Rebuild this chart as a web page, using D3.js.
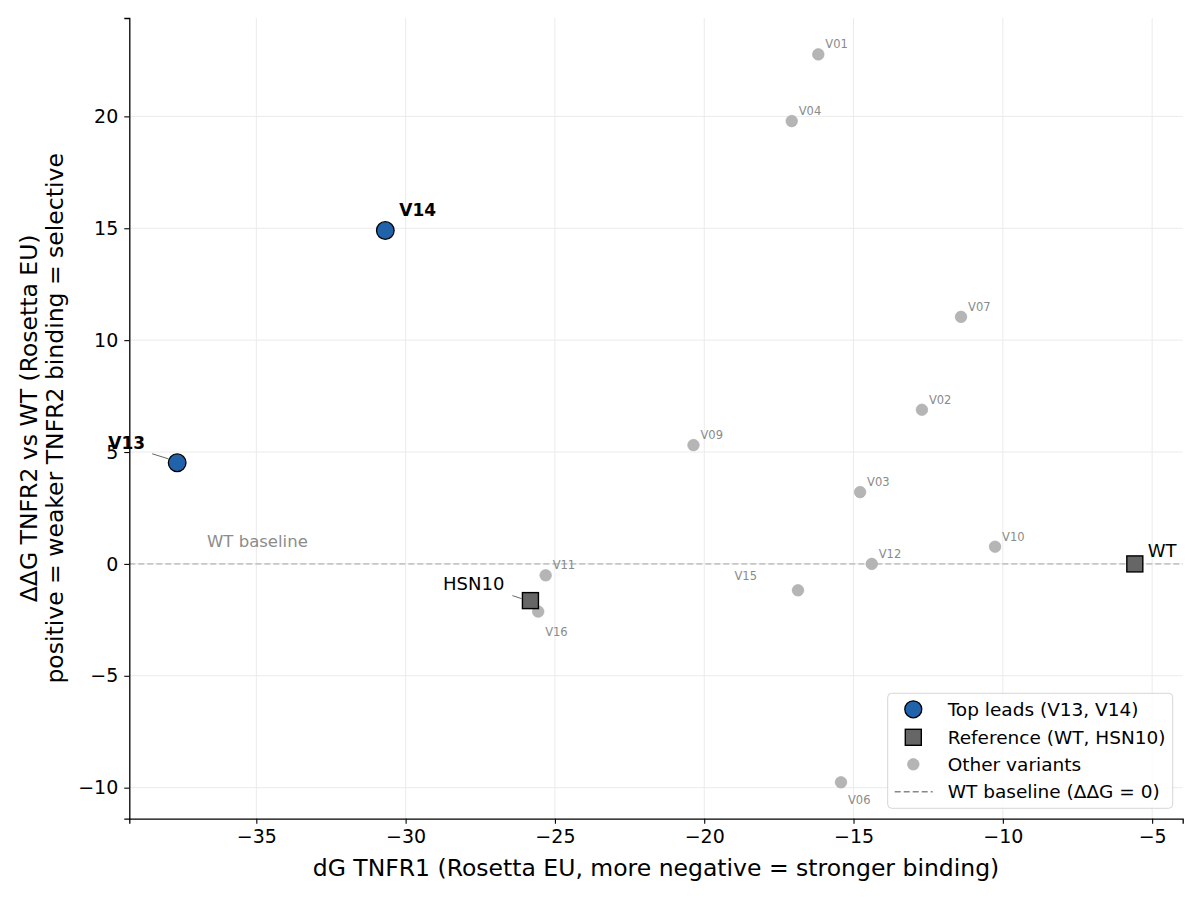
<!DOCTYPE html>
<html>
<head>
<meta charset="utf-8">
<script src="https://cdn.jsdelivr.net/npm/d3@7"></script>
<style>
  body { margin: 0; background: #fff; }
  text { font-family: "DejaVu Sans", sans-serif; }
</style>
</head>
<body>
<div class="svg-container"></div>
<script>
let w = 1200;
let h = 898;

// ---- data ----
let variantNames = ['V01','V02','V03','V04','V06','V07','V09','V10','V11','V12','V15','V16','V13','V14','WT','HSN10'];
let dgTnfr1      = [-16.18,-12.71,-14.78,-17.07,-15.42,-11.40,-20.36,-10.26,-25.31,-14.39,-16.86,-25.56,-37.65,-30.68,-5.58,-25.82];
let ddgTnfr2     = [22.77, 6.89, 3.21, 19.79, -9.76, 11.04, 5.31, 0.77, -0.51, 0.00, -1.18, -2.13, 4.52, 14.90, 0.00, -1.64];
let topLeads   = ['V13','V14'];
let references = ['WT','HSN10'];
let xTicks = [-35,-30,-25,-20,-15,-10,-5];
let yTicks = [-10,-5,0,5,10,15,20];
let legendLabels = ['Top leads (V13, V14)','Reference (WT, HSN10)','Other variants','WT baseline (\u0394\u0394G = 0)'];

let points = variantNames.map(function(d,i){
  let group = 'other';
  if(topLeads.indexOf(d) >= 0){ group = 'top'; }
  if(references.indexOf(d) >= 0){ group = 'ref'; }
  return {name:d, x:dgTnfr1[i], y:ddgTnfr2[i], group:group};
});

// label placement for the small grey labels (pixel offsets)
let smallLabelOffset = {
  'V15':[-41,-10,'end'],
  'V16':[7,24,'start'],
  'V06':[7,22,'start']
};

let margin = {left:129.3, right:1200-1182.7, top:18, bottom:898-818.7};

let svg = d3.select(".svg-container")
  .append("svg")
  .attr('width',w)
  .attr('height',h);

// matplotlib style 5% margins
let xExt = d3.extent(points,function(d){ return d.x; });
let yExt = d3.extent(points,function(d){ return d.y; });
let xPad = (xExt[1]-xExt[0])*0.05;
let yPad = (yExt[1]-yExt[0])*0.05;

let x = d3.scaleLinear()
  .domain([xExt[0]-xPad, xExt[1]+xPad])
  .range([margin.left, w-margin.right]);
let y = d3.scaleLinear()
  .domain([yExt[0]-yPad, yExt[1]+yPad])
  .range([h-margin.bottom, margin.top]);

let minus = function(v){ return (v<0 ? '\u2212' : '') + Math.abs(v); };

// grid
let grid = svg.append('g').attr('class','grid');
grid.selectAll('.gx').data(xTicks).enter().append('line')
  .attr('x1',function(d){ return x(d); }).attr('x2',function(d){ return x(d); })
  .attr('y1',y.range()[0]).attr('y2',y.range()[1])
  .attr('stroke','#ebebeb').attr('stroke-width',1);
grid.selectAll('.gy').data(yTicks).enter().append('line')
  .attr('y1',function(d){ return y(d); }).attr('y2',function(d){ return y(d); })
  .attr('x1',x.range()[0]).attr('x2',x.range()[1])
  .attr('stroke','#ebebeb').attr('stroke-width',1);

// WT baseline
svg.append('line')
  .attr('x1',x.range()[0]).attr('x2',x.range()[1])
  .attr('y1',y(0)).attr('y2',y(0))
  .attr('stroke','#c6c6c6').attr('stroke-width',1.7)
  .attr('stroke-dasharray','6,3');
svg.append('text')
  .attr('x',x(-36.65)).attr('y',y(0)-17)
  .text('WT baseline')
  .attr('font-size','16.5px')
  .attr('fill','#8c8c8c');

// axes
let xAxis = d3.axisBottom(x).tickValues(xTicks).tickFormat(minus).tickSizeOuter(0).tickSize(5).tickPadding(6);
let yAxis = d3.axisLeft(y).tickValues(yTicks).tickFormat(minus).tickSizeOuter(0).tickSize(5).tickPadding(6);

let xAxisGroup = svg.append('g')
  .attr('transform','translate(0,'+(h-margin.bottom)+')')
  .call(xAxis);
let yAxisGroup = svg.append('g')
  .attr('transform','translate('+margin.left+',0)')
  .call(yAxis);
[xAxisGroup,yAxisGroup].forEach(function(g){
  g.select('.domain').attr('stroke','#000').attr('stroke-width',1.3);
  g.selectAll('.tick line').attr('stroke','#000').attr('stroke-width',1.1);
  g.selectAll('.tick text').attr('font-size','19px').attr('fill','#000')
    .attr('font-family','DejaVu Sans, sans-serif');
});

// axis titles
svg.append('text')
  .attr('x',(x.range()[0]+x.range()[1])/2).attr('y',876)
  .attr('text-anchor','middle')
  .attr('font-size','23.5px')
  .text('dG TNFR1 (Rosetta EU, more negative = stronger binding)');

let yMid = (y.range()[0]+y.range()[1])/2;
let yTitle = svg.append('text')
  .attr('transform','translate(0,'+yMid+') rotate(-90)')
  .attr('text-anchor','middle')
  .attr('font-size','23.5px');
yTitle.append('tspan').attr('x',0).attr('y',37).text('\u0394\u0394G TNFR2 vs WT (Rosetta EU)');
yTitle.append('tspan').attr('x',0).attr('y',63).text('positive = weaker TNFR2 binding = selective');

// other variants
let others = points.filter(function(d){ return d.group=='other'; });
svg.selectAll('circle.other').data(others).enter().append('circle')
  .attr('class','other')
  .attr('cx',function(d){ return x(d.x); })
  .attr('cy',function(d){ return y(d.y); })
  .attr('r',5.8)
  .attr('fill','#b5b5b5')
  .attr('stroke','#a9a9a9')
  .attr('stroke-width',0.6);

svg.selectAll('text.small').data(others).enter().append('text')
  .attr('class','small')
  .attr('x',function(d){ let o = smallLabelOffset[d.name] || [7,-6]; return x(d.x)+o[0]; })
  .attr('y',function(d){ let o = smallLabelOffset[d.name] || [7,-6]; return y(d.y)+o[1]; })
  .attr('text-anchor',function(d){ let o = smallLabelOffset[d.name] || [7,-6,'start']; return o[2]||'start'; })
  .attr('font-size','11.5px')
  .attr('fill','#8a8a8a')
  .text(function(d){ return d.name; });

// reference squares
let refs = points.filter(function(d){ return d.group=='ref'; });
let sq = 16;
svg.selectAll('rect.ref').data(refs).enter().append('rect')
  .attr('class','ref')
  .attr('x',function(d){ return x(d.x)-sq/2; })
  .attr('y',function(d){ return y(d.y)-sq/2; })
  .attr('width',sq).attr('height',sq)
  .attr('fill','#666666')
  .attr('stroke','#000')
  .attr('stroke-width',1.4);

// top leads
let tops = points.filter(function(d){ return d.group=='top'; });
svg.selectAll('circle.top').data(tops).enter().append('circle')
  .attr('class','top')
  .attr('cx',function(d){ return x(d.x); })
  .attr('cy',function(d){ return y(d.y); })
  .attr('r',8.8)
  .attr('fill','#2163ab')
  .attr('stroke','#000')
  .attr('stroke-width',1.3);

// big labels with leader lines
let bigLabels = {
  'V14':  {dx:14, dy:-14, anchor:'start', bold:true},
  'V13':  {dx:-32, dy:-14, anchor:'end', bold:true, lead:[-25,-9,-9,-4]},
  'WT':   {dx:13, dy:-7, anchor:'start', bold:false},
  'HSN10':{dx:-26, dy:-11, anchor:'end', bold:false, lead:[-18,-5,-9,-2]}
};
let labelled = tops.concat(refs);
labelled.forEach(function(d){
  let b = bigLabels[d.name];
  if(b.lead){
    svg.append('line')
      .attr('x1',x(d.x)+b.lead[0]).attr('y1',y(d.y)+b.lead[1])
      .attr('x2',x(d.x)+b.lead[2]).attr('y2',y(d.y)+b.lead[3])
      .attr('stroke','#555').attr('stroke-width',0.9);
  }
  svg.append('text')
    .attr('x',x(d.x)+b.dx).attr('y',y(d.y)+b.dy)
    .attr('text-anchor',b.anchor)
    .attr('font-size',b.bold ? '17px' : '18px')
    .attr('font-weight',b.bold ? 'bold' : 'normal')
    .text(d.name);
});

// legend
let legend = svg.append('g').attr('transform','translate(887.7,693.3)');
legend.append('rect')
  .attr('width',285).attr('height',115)
  .attr('rx',4)
  .attr('fill','#fff').attr('fill-opacity',0.85)
  .attr('stroke','#d6d6d6');
let rowY = [16,44,71,98.4];
legend.append('circle').attr('cx',25.6).attr('cy',rowY[0]).attr('r',8.5)
  .attr('fill','#2163ab').attr('stroke','#000').attr('stroke-width',1.3);
legend.append('rect').attr('x',25.6-8).attr('y',rowY[1]-8).attr('width',16).attr('height',16)
  .attr('fill','#666666').attr('stroke','#000').attr('stroke-width',1.4);
legend.append('circle').attr('cx',25.6).attr('cy',rowY[2]).attr('r',5.8)
  .attr('fill','#b5b5b5').attr('stroke','#a9a9a9').attr('stroke-width',0.6);
legend.append('line').attr('x1',7).attr('x2',45).attr('y1',rowY[3]).attr('y2',rowY[3])
  .attr('stroke','#888').attr('stroke-width',1.6).attr('stroke-dasharray','6,3');
legend.selectAll('text.leg').data(legendLabels).enter().append('text')
  .attr('class','leg')
  .attr('x',60)
  .attr('y',function(d,i){ return rowY[i]+6.5; })
  .attr('font-size','18.5px')
  .text(function(d){ return d; });
</script>
</body>
</html>
